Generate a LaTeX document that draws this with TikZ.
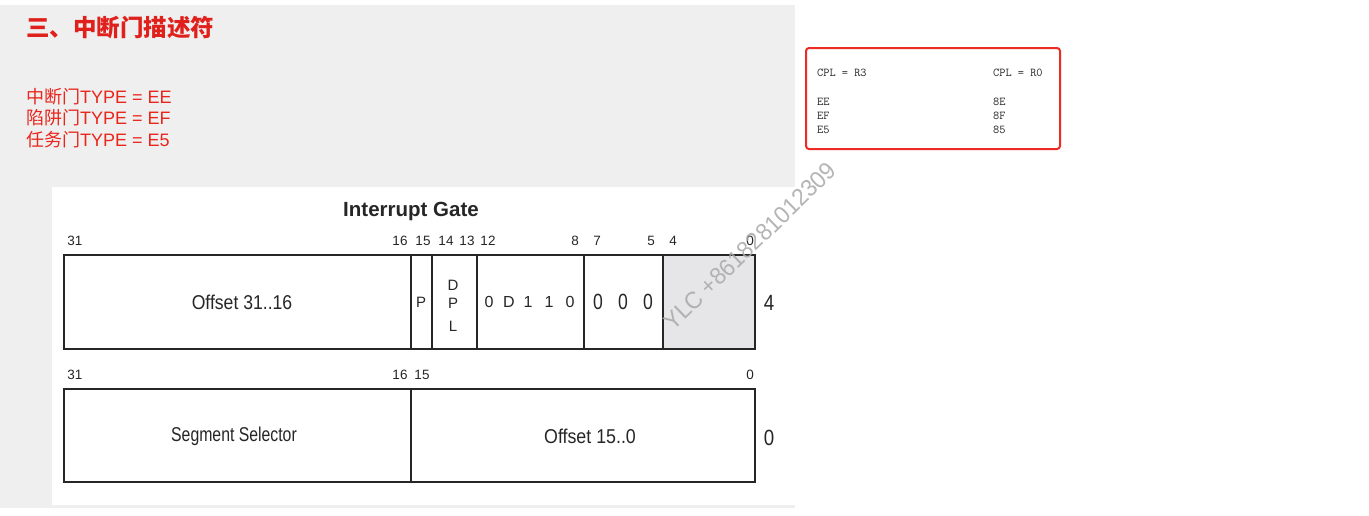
\documentclass[tikz,border=0pt]{standalone}
\usepackage{fontspec}
\setmainfont{Liberation Sans}
\setmonofont{Latin Modern Mono}
\newfontfamily\cjk{Noto Sans CJK SC}
\definecolor{slidebg}{HTML}{EFEFEF}
\definecolor{titlered}{HTML}{E0201B}
\definecolor{listred}{HTML}{E8261C}
\definecolor{boxred}{HTML}{EE2A24}
\definecolor{ink}{HTML}{262626}
\definecolor{shadecell}{HTML}{E6E6E8}
\definecolor{wmgray}{HTML}{A8A8A8}
\newcommand{\fs}[1]{\fontsize{#1}{#1}\selectfont}
\newcommand{\sq}[2]{\scalebox{#1}[1]{#2}}
\tikzset{
  frame/.style={draw=ink, line width=1.3pt},
  bitlbl/.style={text=ink, inner sep=0pt, font=\fs{13.5}},
  celltxt/.style={text=ink, inner sep=0pt, font=\fs{20}},
  smalltxt/.style={text=ink, inner sep=0pt, font=\fs{15}},
  listtxt/.style={text=listred, anchor=west, inner sep=0pt, font=\fs{18}},
  monotxt/.style={text=ink, anchor=west, inner sep=0pt, font=\ttfamily\fs{12}},
}
\begin{document}
\begin{tikzpicture}[x=1pt,y=-1pt]
\useasboundingbox (0,0) rectangle (1369,515);
\fill[white] (0,0) rectangle (1369,515);
\fill[slidebg] (0,5) rectangle (795,508);
\fill[white] (52,187) rectangle (795,505);

% title and list
\node[anchor=west, inner sep=0pt, text=titlered, font=\cjk\bfseries\fs{23.5}] (title) at (26,28) {三、中断门描述符};
\node[listtxt] (l1) at (26,97) {{\cjk 中断门}TYPE = EE};
\node[listtxt] (l2) at (26,118) {{\cjk 陷阱门}TYPE = EF};
\node[listtxt] (l3) at (26,140) {{\cjk 任务门}TYPE = E5};

% red box
\draw[boxred, line width=2pt, rounded corners=3pt] (806,48) rectangle (1060,149);
\node[monotxt] (c3) at (817,73) {CPL = R3};
\node[monotxt] (c0) at (993,73) {CPL = R0};
\node[monotxt] (a1) at (817,102) {EE};
\node[monotxt] (a2) at (817,116) {EF};
\node[monotxt] (a3) at (817,130) {E5};
\node[monotxt] (b1) at (993,102) {8E};
\node[monotxt] (b2) at (993,116) {8F};
\node[monotxt] (b3) at (993,130) {85};

% diagram title
\node[text=ink, inner sep=0pt, font=\bfseries\fs{20.5}] (gate) at (411,211) {Interrupt Gate};

% top row
\fill[shadecell] (663,255) rectangle (755,349);
\draw[frame] (64,255) rectangle (755,349);
\foreach \x in {411,432,477,584,663} \draw[frame] (\x,255) -- (\x,349);

\foreach \x/\t [count=\i] in {75/31,400/16,423/15,446/14,467/13,488/12,575/8,597/7,651/5,673/4,750/0}
  \node[bitlbl] (tb\i) at (\x,241) {\t};

\node[celltxt] (off1) at (242,302) {\sq{0.88}{Offset 31..16}};
\node[smalltxt] (p) at (421,302) {P};
\node[smalltxt] (d1) at (453,285) {D};
\node[smalltxt] (d2) at (453,303) {P};
\node[smalltxt] (d3) at (453,326) {L};
\foreach \x/\t [count=\i] in {489/0,509/D,528/1,549/1,570/0}
  \node[smalltxt, font=\fs{16}] (ty\i) at (\x,302) {\t};
\foreach \x [count=\i] in {598,623,648}
  \node[celltxt, font=\fs{22}] (z\i) at (\x,302) {\sq{0.8}{0}};
\node[celltxt, font=\fs{22}] (w4) at (769,303) {\sq{0.85}{4}};

% bottom row
\draw[frame] (64,389) rectangle (755,482);
\draw[frame] (411,389) -- (411,482);
\foreach \x/\t [count=\i] in {75/31,400/16,422/15,750/0}
  \node[bitlbl] (bb\i) at (\x,375) {\t};
\node[celltxt] (seg) at (234,436) {\sq{0.79}{Segment Selector}};
\node[celltxt] (off0) at (590,436) {\sq{0.89}{Offset 15..0}};
\node[celltxt, font=\fs{22}] (w0) at (769,438) {\sq{0.85}{0}};

% watermark
\node[text=wmgray, inner sep=0pt, rotate=44, font=\fs{24}, opacity=0.85] (wm) at (750,246) {\sq{0.95}{YLC +8618281012309}};
\end{tikzpicture}
\end{document}
